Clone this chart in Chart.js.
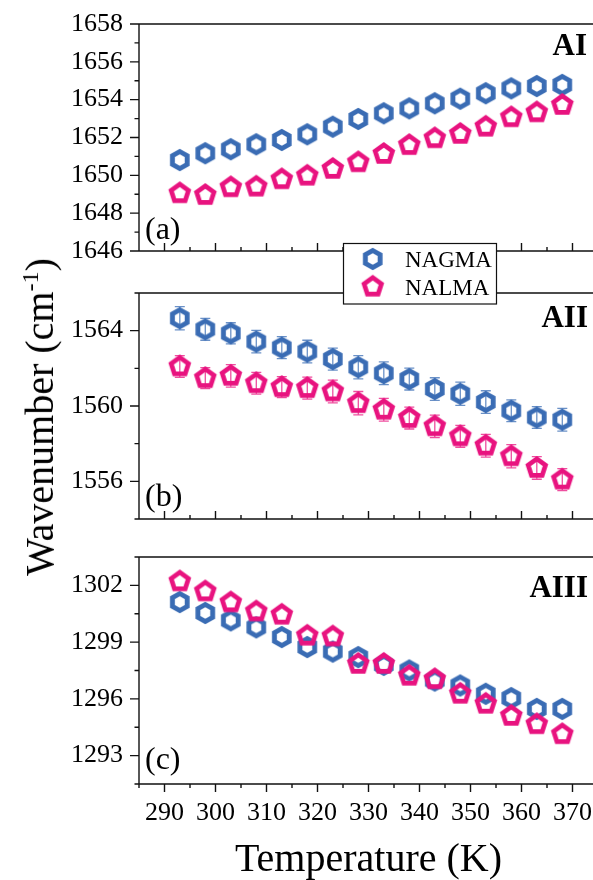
<!DOCTYPE html>
<html>
<head>
<meta charset="utf-8">
<script src="https://cdn.jsdelivr.net/npm/chart.js@4.4.1/dist/chart.umd.min.js"></script>
<style>
  html, body { margin: 0; padding: 0; background: #fff; }
  body { width: 593px; height: 880px; overflow: hidden; position: relative; }
  canvas { position: absolute; left: 0; }
  #ytitle {
    position: absolute; left: 40px; top: 417px;
    transform: translate(-50%, -50%) rotate(-90deg);
    font: 40px "Liberation Serif", "Times New Roman", serif;
    line-height: 1; white-space: nowrap; color: #000;
  }
  #ytitle sup { font-size: 24px; line-height: 0; vertical-align: 15px; }
</style>
</head>
<body>
<canvas id="panelA" width="600" height="270" style="top:0px"></canvas>
<canvas id="panelB" width="600" height="300" style="top:235px"></canvas>
<canvas id="panelC" width="600" height="345" style="top:535px"></canvas>
<div id="ytitle">Wavenumber (cm<sup>-1</sup>)</div>
<script>
const temperatures = [293, 298, 303, 308, 313, 318, 323, 328, 333, 338, 343, 348, 353, 358, 363, 368];

// Amide I
const nagmaAI = [1650.81, 1651.17, 1651.38, 1651.64, 1651.87, 1652.17, 1652.57, 1652.98,
                 1653.28, 1653.54, 1653.81, 1654.05, 1654.34, 1654.60, 1654.72, 1654.78];
const nalmaAI = [1649.05, 1648.96, 1649.37, 1649.40, 1649.79, 1649.98, 1650.34, 1650.69,
                 1651.13, 1651.60, 1651.96, 1652.19, 1652.57, 1653.07, 1653.33, 1653.72];

// Amide II
const nagmaAII = [1564.66, 1564.07, 1563.86, 1563.42, 1563.10, 1562.89, 1562.49, 1562.06,
                  1561.74, 1561.43, 1560.90, 1560.65, 1560.21, 1559.75, 1559.39, 1559.27];
const nalmaAII = [1562.10, 1561.48, 1561.60, 1561.21, 1561.00, 1560.95, 1560.77, 1560.15,
                  1559.80, 1559.36, 1558.92, 1558.39, 1557.89, 1557.33, 1556.71, 1556.09];
const nagmaAIIErr = [0.62, 0.58, 0.56, 0.60, 0.58, 0.60, 0.58, 0.62, 0.60, 0.58, 0.60, 0.62, 0.60, 0.58, 0.58, 0.60];
const nalmaAIIErr = [0.58, 0.56, 0.60, 0.58, 0.56, 0.58, 0.60, 0.62, 0.60, 0.58, 0.60, 0.58, 0.60, 0.62, 0.60, 0.58];

// Amide III
const nagmaAIII = [1301.12, 1300.54, 1300.15, 1299.78, 1299.27, 1298.74, 1298.50, 1298.21,
                   1297.80, 1297.50, 1296.97, 1296.71, 1296.27, 1296.04, 1295.47, 1295.47];
const nalmaAIII = [1302.21, 1301.68, 1301.10, 1300.62, 1300.45, 1299.34, 1299.30, 1297.85,
                   1297.85, 1297.22, 1297.04, 1296.27, 1295.74, 1295.10, 1294.66, 1294.13];

const xLabels = [290, 300, 310, 320, 330, 340, 350, 360, 370];
const yLabelsAI = [1646, 1648, 1650, 1652, 1654, 1656, 1658];
const yLabelsAII = [1556, 1560, 1564];
const yLabelsAIII = [1293, 1296, 1299, 1302];

const BLUE = '#3a6cb4';
const PINK = '#e8137f';
const SERIF = '"Liberation Serif", "Times New Roman", serif';

// hollow polygon markers used as point styles
function ringMarker(sides, radius, width, color) {
  const size = 30;
  const c = document.createElement('canvas');
  c.width = size; c.height = size;
  const g = c.getContext('2d');
  g.strokeStyle = color;
  g.lineWidth = width;
  g.lineJoin = 'miter';
  g.beginPath();
  for (let k = 0; k < sides; k++) {
    const a = -Math.PI / 2 + k * 2 * Math.PI / sides;
    const px = size / 2 + radius * Math.cos(a);
    const py = size / 2 + radius * Math.sin(a);
    if (k === 0) g.moveTo(px, py); else g.lineTo(px, py);
  }
  g.closePath();
  g.stroke();
  return c;
}
const hexMarker = ringMarker(6, 8.5, 4.9, BLUE);
const pentMarker = ringMarker(5, 9.1, 4.7, PINK);

const near = (list, v) => list.some(t => Math.abs(t - v) < 1e-6);

function range(from, to, step) {
  const out = [];
  for (let v = from; v <= to + 1e-9; v += step) out.push(Math.round(v * 100) / 100);
  return out;
}

// scales keep their own label overhang out of the layout
function noPad(s) {
  s.paddingTop = 0; s.paddingBottom = 0; s.paddingLeft = 0; s.paddingRight = 0;
}

// axis frame with major/minor tick marks
const framePlugin = {
  id: 'frame',
  beforeDatasetsDraw(chart, args, opts) {
    const { ctx, chartArea: a } = chart;
    const xs = chart.scales.x, ys = chart.scales.y;
    ctx.save();
    ctx.strokeStyle = '#111';
    ctx.lineWidth = 1.4;
    ctx.beginPath();
    ctx.moveTo(a.left, a.top); ctx.lineTo(a.right, a.top);
    ctx.moveTo(a.left, a.top); ctx.lineTo(a.left, a.bottom);
    ctx.moveTo(a.left, a.bottom); ctx.lineTo(a.right, a.bottom);
    ctx.moveTo(a.right, a.top); ctx.lineTo(a.right, a.bottom);
    for (const v of range(ys.min, ys.max, opts.yStep)) {
      const y = ys.getPixelForValue(v);
      const len = near(opts.yMajor, v) ? 9 : 4.5;
      ctx.moveTo(a.left, y); ctx.lineTo(a.left - len, y);
    }
    const dir = opts.xInside ? -1 : 1;
    for (const v of range(xs.min, xs.max, 5)) {
      const x = xs.getPixelForValue(v);
      const len = near(xLabels, v) ? 8 : 4;
      ctx.moveTo(x, a.bottom); ctx.lineTo(x, a.bottom + dir * len);
    }
    ctx.stroke();
    ctx.restore();
  }
};

// vertical error bars with caps, taken from dataset.errors
const errorBarPlugin = {
  id: 'errorBars',
  beforeDatasetsDraw(chart) {
    const { ctx } = chart;
    const ys = chart.scales.y;
    chart.data.datasets.forEach((ds, i) => {
      if (!ds.errors) return;
      const meta = chart.getDatasetMeta(i);
      ctx.save();
      ctx.strokeStyle = ds.barColor;
      ctx.lineWidth = 1.3;
      ctx.beginPath();
      meta.data.forEach((pt, j) => {
        const v = ds.data[j].y, e = ds.errors[j];
        const y1 = ys.getPixelForValue(v + e), y2 = ys.getPixelForValue(v - e);
        ctx.moveTo(pt.x, y1); ctx.lineTo(pt.x, y2);
        ctx.moveTo(pt.x - 5, y1); ctx.lineTo(pt.x + 5, y1);
        ctx.moveTo(pt.x - 5, y2); ctx.lineTo(pt.x + 5, y2);
      });
      ctx.stroke();
      ctx.restore();
    });
  }
};

// panel letter and band name
const panelTextPlugin = {
  id: 'panelText',
  afterDraw(chart, args, opts) {
    const { ctx } = chart;
    ctx.save();
    ctx.fillStyle = '#000';
    ctx.textBaseline = 'alphabetic';
    ctx.font = '32px ' + SERIF;
    ctx.textAlign = 'left';
    ctx.fillText(opts.letter, opts.letterPos[0], opts.letterPos[1]);
    ctx.font = 'bold 31px ' + SERIF;
    ctx.textAlign = 'right';
    ctx.fillText(opts.band, opts.bandPos[0], opts.bandPos[1]);
    ctx.restore();
  }
};

// boxed legend sitting across the gap between the first two panels
const legendPlugin = {
  id: 'boxLegend',
  afterDraw(chart, args, opts) {
    if (!opts.show) return;
    const { ctx } = chart;
    ctx.save();
    ctx.fillStyle = '#fff';
    ctx.strokeStyle = '#111';
    ctx.lineWidth = 1.2;
    ctx.fillRect(343.5, 8.5, 153, 60.5);
    ctx.strokeRect(343.5, 8.5, 153, 60.5);
    ctx.font = '23px ' + SERIF;
    ctx.fillStyle = '#000';
    ctx.textAlign = 'left';
    ctx.textBaseline = 'alphabetic';
    chart.data.datasets.forEach((ds, i) => {
      const cy = 24 + i * 27.7;
      ctx.drawImage(ds.pointStyle, 372.7 - ds.pointStyle.width / 2, cy - ds.pointStyle.height / 2);
      ctx.fillText(ds.label, 405, cy + 8);
    });
    ctx.restore();
  }
};

const pairs = vals => vals.map((v, i) => ({ x: temperatures[i], y: v }));

function makePanel(id, cfg) {
  const tickFont = { family: SERIF, size: 26 };
  return new Chart(document.getElementById(id), {
    type: 'scatter',
    data: {
      datasets: [
        { label: 'NAGMA', data: pairs(cfg.nagma), pointStyle: hexMarker, order: 1,
          errors: cfg.nagmaErr, barColor: 'rgba(58,108,180,0.75)' },
        { label: 'NALMA', data: pairs(cfg.nalma), pointStyle: pentMarker, order: 0,
          errors: cfg.nalmaErr, barColor: 'rgba(232,19,127,0.75)' }
      ]
    },
    options: {
      responsive: false,
      animation: false,
      events: [],
      layout: { padding: cfg.padding, autoPadding: false },
      plugins: {
        legend: { display: false },
        tooltip: { enabled: false },
        frame: { yStep: cfg.yStep, yMajor: cfg.yLabels, xInside: !cfg.showX },
        panelText: { letter: cfg.letter, letterPos: cfg.letterPos, band: cfg.band, bandPos: cfg.bandPos },
        boxLegend: { show: !!cfg.legend }
      },
      scales: {
        x: {
          type: 'linear', min: 285, max: 375,
          display: cfg.showX,
          afterFit: s => { noPad(s); if (cfg.showX) s.height = cfg.xHeight; },
          grid: { display: false, drawTicks: false },
          border: { display: false },
          ticks: {
            stepSize: 5, autoSkip: false, maxRotation: 0, padding: 14,
            font: tickFont, color: '#000',
            callback: v => near(xLabels, v) ? String(v) : ''
          },
          title: {
            display: cfg.showX, text: 'Temperature (K)', color: '#000',
            font: { family: SERIF, size: 40, lineHeight: 1 }, padding: 0
          }
        },
        y: {
          type: 'linear', min: cfg.yMin, max: cfg.yMax,
          afterFit: s => { noPad(s); s.width = 139; },
          grid: { display: false, drawTicks: false },
          border: { display: false },
          ticks: {
            stepSize: cfg.yStep, autoSkip: false, padding: 16,
            font: tickFont, color: '#000',
            callback: v => near(cfg.yLabels, v) ? String(v) : ''
          }
        }
      }
    },
    plugins: [framePlugin, errorBarPlugin, panelTextPlugin, legendPlugin]
  });
}

makePanel('panelA', {
  nagma: nagmaAI, nalma: nalmaAI,
  yMin: 1646, yMax: 1658, yStep: 1, yLabels: yLabelsAI,
  padding: { top: 24, bottom: 19, left: 0, right: 2 },
  showX: false,
  letter: '(a)', letterPos: [145, 239.3], band: 'AI', bandPos: [587, 55]
});

makePanel('panelB', {
  nagma: nagmaAII, nalma: nalmaAII, nagmaErr: nagmaAIIErr, nalmaErr: nalmaAIIErr,
  yMin: 1554, yMax: 1566, yStep: 2, yLabels: yLabelsAII,
  padding: { top: 58, bottom: 16, left: 0, right: 2 },
  showX: false, legend: true,
  letter: '(b)', letterPos: [145, 271], band: 'AII', bandPos: [588, 91.7]
});

makePanel('panelC', {
  nagma: nagmaAIII, nalma: nalmaAIII,
  yMin: 1291.5, yMax: 1303.5, yStep: 1.5, yLabels: yLabelsAIII,
  padding: { top: 22, bottom: 0, left: 0, right: 2 },
  showX: true, xHeight: 96,
  letter: '(c)', letterPos: [145, 234.3], band: 'AIII', bandPos: [588, 61.7]
});
</script>
</body>
</html>
